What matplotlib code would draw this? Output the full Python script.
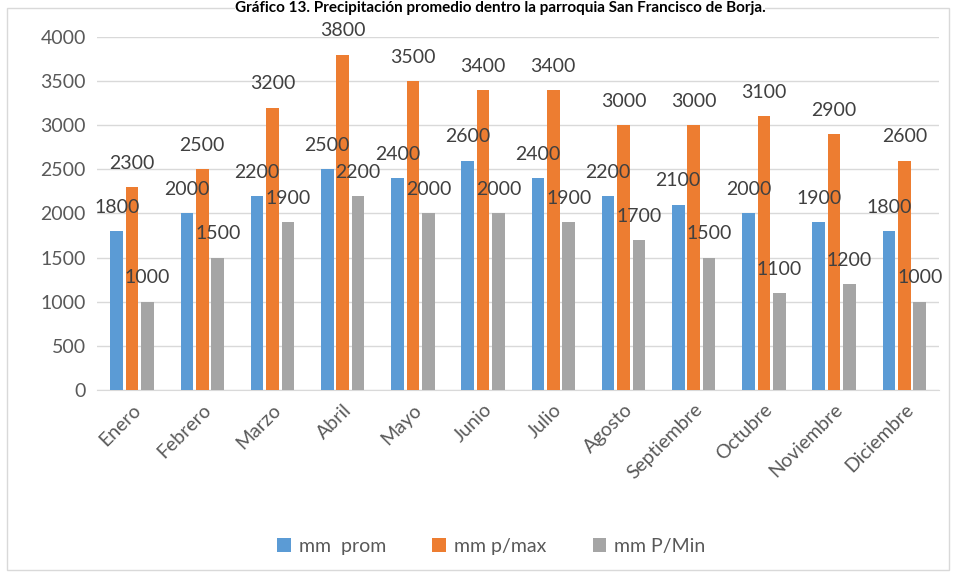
import numpy as np
import matplotlib.pyplot as plt
from matplotlib.patches import Rectangle

plt.rcParams['font.family'] = ['Lato', 'DejaVu Sans']

# data
meses = ["Enero", "Febrero", "Marzo", "Abril", "Mayo", "Junio", "Julio",
         "Agosto", "Septiembre", "Octubre", "Noviembre", "Diciembre"]
mm_prom = [1800, 2000, 2200, 2500, 2400, 2600, 2400, 2200, 2100, 2000, 1900, 1800]
mm_max = [2300, 2500, 3200, 3800, 3500, 3400, 3400, 3000, 3000, 3100, 2900, 2600]
mm_min = [1000, 1500, 1900, 2200, 2000, 2000, 1900, 1700, 1500, 1100, 1200, 1000]

series = [("mm  prom", mm_prom, "#5B9BD5"),
          ("mm p/max", mm_max, "#ED7D31"),
          ("mm P/Min", mm_min, "#A5A5A5")]

fig = plt.figure(figsize=(9.54, 5.76), dpi=100, facecolor="white")
ax = fig.add_axes([0.1017, 0.323, 0.883, 0.6128])

x = np.arange(len(meses))
w = 0.18
for i, (name, vals, col) in enumerate(series):
    bars = ax.bar(x + (i - 1) * 0.22, vals, width=w, color=col, label=name, zorder=3)
    ax.bar_label(bars, labels=[str(v) for v in vals], padding=11,
                 fontsize=14, color="#404040", zorder=6)

ax.set_xlim(-0.5, len(meses) - 0.5)
ax.set_ylim(0, 4000)
ax.set_yticks(np.arange(0, 4001, 500))
ax.yaxis.grid(True, color="#d9d9d9", linewidth=1, zorder=0)
for s in ["top", "right", "left"]:
    ax.spines[s].set_visible(False)
ax.spines["bottom"].set_color("#d9d9d9")
ax.tick_params(axis="both", length=0, labelsize=14, labelcolor="#595959", pad=8)
ax.set_xticks(x)
ax.set_xticklabels(meses, rotation=45, ha="right", rotation_mode="anchor")

fig.legend(loc="center", bbox_to_anchor=(0.515, 0.052), ncol=3, frameon=False,
           fontsize=14, labelcolor="#595959", handlelength=0.7, handleheight=0.7,
           columnspacing=2.4, handletextpad=0.4)

fig.patches.append(Rectangle((7 / 954, 6 / 576), 942 / 954, 562 / 576,
                             transform=fig.transFigure, fill=False,
                             edgecolor="#d9d9d9", linewidth=1))

fig.text(0.524, 1 - 1 / 576,
         "Gráfico 13. Precipitación promedio dentro la parroquia San Francisco de Borja.",
         ha="center", va="top", fontsize=11, fontweight="bold", color="black",
         bbox=dict(facecolor="white", edgecolor="none", pad=0))

plt.savefig("out.png", dpi=100)
